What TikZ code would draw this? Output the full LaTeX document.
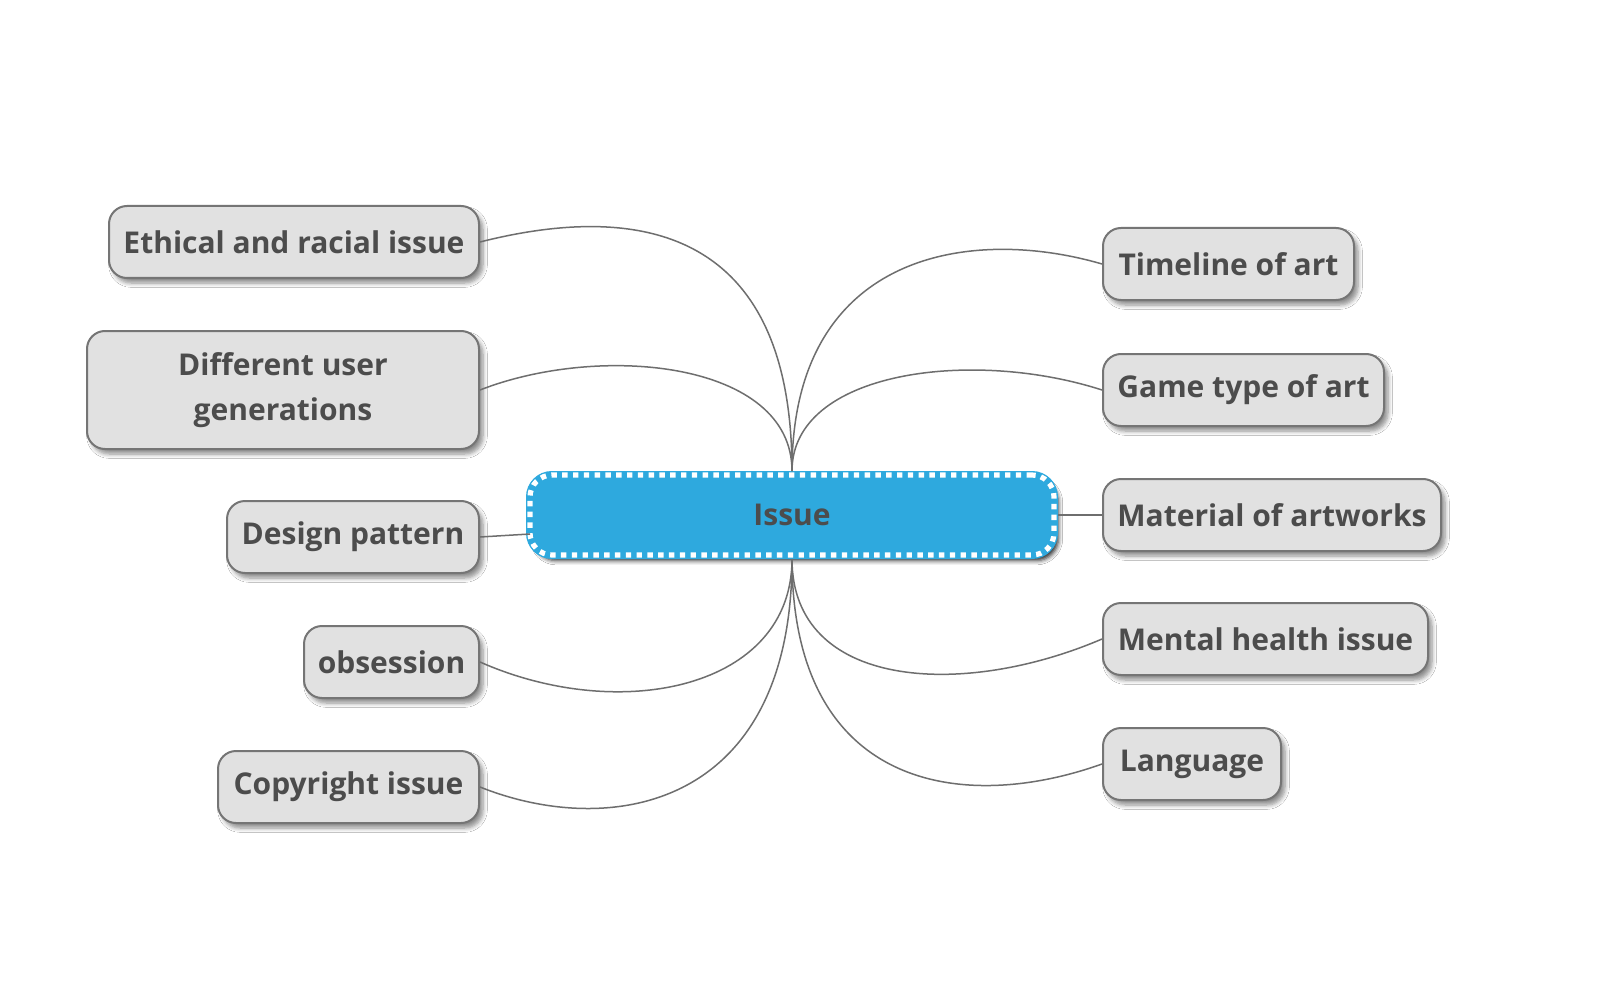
\documentclass[tikz,border=0pt]{standalone}
\usepackage{fontspec}
\setmainfont{Open Sans}
\usetikzlibrary{shadows.blur,calc}
\definecolor{txt}{HTML}{4C4C4C}
\definecolor{nfill}{HTML}{E1E1E1}
\definecolor{nline}{HTML}{757575}
\definecolor{cblue}{HTML}{2EA9DE}
\definecolor{conn}{HTML}{6E6E6E}
\tikzset{
  leaf/.style={draw=nline, line width=1pt, fill=nfill, rounded corners=9pt,
    minimum height=36pt, inner sep=0pt, text=txt,
    font=\fontsize{15}{22.5}\selectfont\bfseries, align=center,
    blur shadow={shadow xshift=2pt, shadow yshift=-2.5pt, shadow blur steps=6, shadow opacity=45}},
  hub/.style={fill=cblue, draw=cblue, line width=4pt, rounded corners=11pt,
    minimum width=262pt, minimum height=40pt, inner sep=0pt, text=txt,
    font=\fontsize{15}{22.5}\selectfont\bfseries,
    blur shadow={shadow xshift=2.2pt, shadow yshift=-2.8pt, shadow blur steps=4, shadow opacity=85},
    postaction={draw=white, line width=2.6pt, dash pattern=on 2.7pt off 2.7pt}},
  link/.style={draw=conn, line width=0.75pt}
}
\begin{document}
\begin{tikzpicture}[x=0.5pt,y=-0.5pt]
\useasboundingbox (0,0) rectangle (1600,1000);
\fill[white] (0,0) rectangle (1600,1000);
% hub
\node[hub] (c) at (792,515) {Issue};
% left leaves
\node[leaf, anchor=east, minimum width=185pt] (e) at (480,242) {Ethical and racial issue};
\node[leaf, anchor=east, minimum width=196pt, minimum height=59pt] (g) at (480,390) {Different user\\generations};
\node[leaf, anchor=east, minimum width=126pt] (d) at (480,537) {Design pattern};
\node[leaf, anchor=east, minimum width=87.5pt] (o) at (480,662) {obsession};
\node[leaf, anchor=east, minimum width=130.5pt] (p) at (480,787) {Copyright issue};
% right leaves
\node[leaf, anchor=west, minimum width=125.5pt] (t) at (1102,264) {Timeline of art};
\node[leaf, anchor=west, minimum width=140.5pt] (y) at (1102,390) {Game type of art};
\node[leaf, anchor=west, minimum width=169pt] (m) at (1102,515) {Material of artworks};
\node[leaf, anchor=west, minimum width=162.5pt] (h) at (1102,639) {Mental health issue};
\node[leaf, anchor=west, minimum width=89pt] (l) at (1102,764) {Language};
% connectors
\draw[link] (e.east) .. controls +(150,-38) and +(0,-250) .. (c.north);
\draw[link] (g.east) .. controls +(120,-47) and +(0,-110) .. (c.north);
\draw[link] (d.east) -- ($(c.west)+(4,19)$);
\draw[link] (o.east) .. controls +(140,62) and +(0,130) .. (c.south);
\draw[link] (p.east) .. controls +(130,52) and +(0,250) .. (c.south);
\draw[link] (t.west) .. controls +(-130,-38) and +(0,-220) .. (c.north);
\draw[link] (y.west) .. controls +(-130,-42) and +(0,-100) .. (c.north);
\draw[link] (c.east) -- (m.west);
\draw[link] (h.west) .. controls +(-140,60) and +(0,130) .. (c.south);
\draw[link] (l.west) .. controls +(-140,50) and +(0,230) .. (c.south);
\end{tikzpicture}
\end{document}
